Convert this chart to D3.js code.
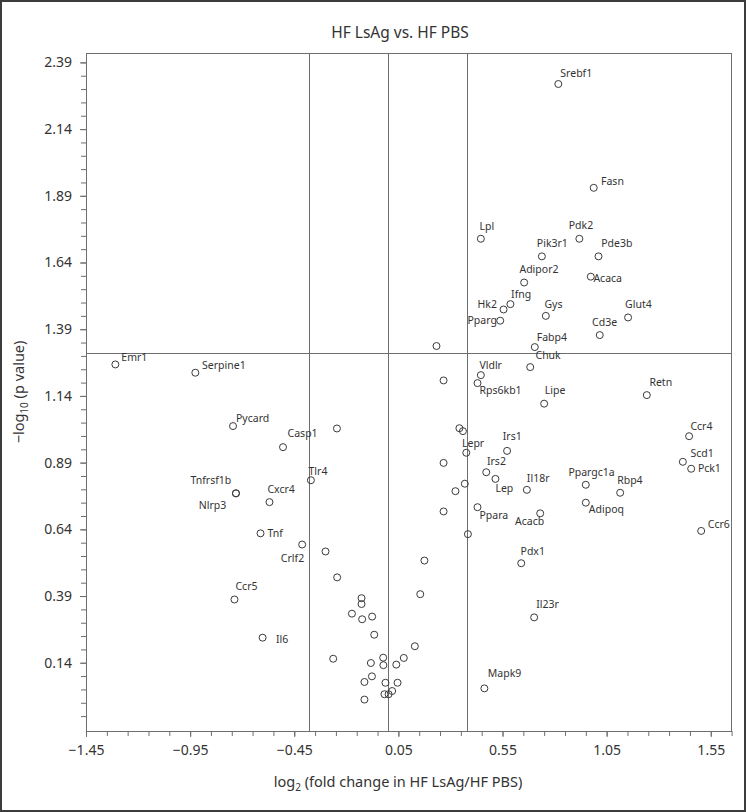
<!DOCTYPE html>
<html><head><meta charset="utf-8">
<script src="https://cdn.jsdelivr.net/npm/d3@7"></script>
<style>body{margin:0;background:#fff}svg{display:block}</style>
</head><body>
<script>
// ---------- data ----------
const genes = [
 "Srebf1","Fasn","Lpl","Pdk2","Pik3r1","Pde3b","Adipor2","Acaca","Ifng","Hk2","Pparg","Gys","Glut4","Cd3e","Fabp4",
 "Chuk","Vldlr","Rps6kb1","Lipe","Retn","Ccr4","Scd1","Pck1","Lepr","Irs1","Irs2","Lep","Il18r","Ppargc1a","Rbp4",
 "Adipoq","Ppara","Acacb","Ccr6","Pdx1","Il23r","Mapk9","Emr1","Serpine1","Pycard","Casp1","Tlr4","Tnfrsf1b","Nlrp3",
 "Cxcr4","Tnf","Crlf2","Ccr5","Il6",
 "","","","","","","","","","","","","","","","","","","","","","","","","","","","","","","","","","",""
];
const log2FoldChange = [
 0.818,0.988,0.446,0.919,0.739,1.011,0.654,0.974,0.588,0.555,0.539,0.758,1.153,1.017,0.705,
 0.683,0.446,0.430,0.750,1.243,1.446,1.416,1.456,0.376,0.572,0.472,0.516,0.667,0.950,1.115,
 0.950,0.430,0.731,1.504,0.640,0.702,0.463,-1.309,-0.925,-0.744,-0.504,-0.370,-0.730,-0.730,
 -0.569,-0.612,-0.412,-0.737,-0.602,
 0.233,0.267,0.343,0.360,0.267,0.369,0.324,0.267,0.384,0.175,0.155,-0.245,-0.300,-0.244,-0.127,
 -0.127,-0.173,-0.076,-0.124,-0.066,0.129,-0.263,-0.023,0.076,-0.082,-0.022,0.040,-0.077,-0.113,
 -0.012,0.046,0.020,-0.017,0.003,-0.113
];
const negLog10P = [
 2.309,1.920,1.729,1.729,1.663,1.663,1.565,1.587,1.484,1.464,1.422,1.440,1.434,1.368,1.323,
 1.248,1.218,1.188,1.111,1.143,0.989,0.893,0.867,0.927,0.934,0.854,0.829,0.788,0.807,0.777,
 0.740,0.723,0.700,0.634,0.513,0.310,0.044,1.258,1.227,1.027,0.948,0.824,0.775,0.775,
 0.742,0.625,0.583,0.377,0.234,
 1.327,1.198,1.019,1.008,0.889,0.811,0.783,0.707,0.622,0.523,0.397,1.018,0.557,0.460,0.382,
 0.360,0.324,0.313,0.303,0.245,0.202,0.155,0.159,0.158,0.139,0.131,0.133,0.089,0.068,
 0.065,0.065,0.034,0.022,0.022,0.002
];
const xTickLabels = [-1.45,-0.95,-0.45,0.05,0.55,1.05,1.55];
const yTickLabels = [0.14,0.39,0.64,0.89,1.14,1.39,1.64,1.89,2.14,2.39];
const foldCutoffs = [-Math.log2(1.3), 0, Math.log2(1.3)];
const pCutoff = -Math.log10(0.05);
const chartTitle = "HF LsAg vs. HF PBS";

// ---------- label placement (layout only) ----------
const labelPlacement = {
 Srebf1:[2,-6.6], Fasn:[7.3,-2.7], Lpl:[-1.4,-9], Pdk2:[-10.6,-9.7], Pik3r1:[-5,-9.4], Pde3b:[2.7,-9.4],
 Adipor2:[-4.7,-9.4], Acaca:[2.6,5], Ifng:[0.7,-6], Hk2:[-6.6,-1,'end'], Pparg:[-3.3,3.3,'end'], Gys:[-1.4,-8],
 Glut4:[-3,-9.7], Cd3e:[-7.7,-8.6], Fabp4:[2,-5.6], Chuk:[5.3,-8], Vldlr:[-1.4,-6], Rps6kb1:[2,11],
 Lipe:[0.7,-9.4], Retn:[2.6,-9.3], Ccr4:[1.3,-6.3], Scd1:[7.6,-4.7], Pck1:[6.7,3.7], Lepr:[-4.3,-5.7],
 Irs1:[-4.3,-11], Irs2:[0.7,-7], Lep:[0,12.7], Il18r:[0,-8.3], Ppargc1a:[-17.4,-9], Rbp4:[-3,-8.7],
 Adipoq:[3,10.6], Ppara:[2,12], Acacb:[4,12,'end'], Ccr6:[6.6,-3.3], Pdx1:[-0.7,-8.3], Il23r:[2,-9],
 Mapk9:[3.4,-11], Emr1:[6,-3], Serpine1:[6.7,-4], Pycard:[3,-4.3], Casp1:[4.6,-10], Tlr4:[-2.4,-5.6],
 Tnfrsf1b:[-4.7,-9,'end'], Nlrp3:[-9.7,16,'end'], Cxcr4:[-2,-9], Tnf:[7,3.4], Crlf2:[2,17.6,'end'],
 Ccr5:[1,-9.7], Il6:[13.4,5.6]
};

// ---------- chart ----------
const W = 746, H = 812;
const FONT = "'Noto Sans', 'DejaVu Sans', sans-serif";
const INK = "#333";
const LINE = "#6e6e6e";
const plot = {l: 86, r: 732, t: 53, b: 731};

const x = d3.scaleLinear().domain([-1.45, 1.652]).range([plot.l, plot.r]);
const y = d3.scaleLinear().domain([-0.1158, 2.4252]).range([plot.b, plot.t]);

const svg = d3.select("body").append("svg").attr("width", W).attr("height", H)
  .style("font-family", FONT);

svg.append("rect").attr("x", 0).attr("y", 0).attr("width", W).attr("height", H).attr("fill", "#fff");
svg.append("rect").attr("x", 1).attr("y", 1).attr("width", W - 2).attr("height", H - 2)
  .attr("fill", "none").attr("stroke", "#3c3c3c").attr("stroke-width", 2);

const fmt = v => d3.format(".2f")(v);

// minor ticks
const xMinor = d3.range(-1.45, 1.66, 0.1).map(v => +v.toFixed(2));
const yMinor = d3.range(-0.06, 2.40, 0.05).map(v => +v.toFixed(2));

const gxMinor = svg.append("g").attr("transform", `translate(0,${plot.b})`)
  .call(d3.axisBottom(x).tickValues(xMinor).tickSize(5).tickFormat(""));
const gyMinor = svg.append("g").attr("transform", `translate(${plot.l},0)`)
  .call(d3.axisLeft(y).tickValues(yMinor).tickSize(5).tickFormat(""));
const gx = svg.append("g").attr("transform", `translate(0,${plot.b})`)
  .call(d3.axisBottom(x).tickValues(xTickLabels).tickSize(6).tickPadding(8).tickFormat(fmt));
const gy = svg.append("g").attr("transform", `translate(${plot.l},0)`)
  .call(d3.axisLeft(y).tickValues(yTickLabels).tickSize(6).tickPadding(8).tickFormat(fmt));

[gxMinor, gyMinor, gx, gy].forEach(g => {
  g.select(".domain").remove();
  g.selectAll(".tick line").attr("stroke", LINE);
  g.selectAll(".tick text").attr("fill", INK).style("font-size", "14px").style("font-family", FONT);
});

// reference lines
const ref = svg.append("g").attr("stroke", LINE).attr("stroke-width", 1);
foldCutoffs.forEach(v => {
  ref.append("line").attr("x1", Math.round(x(v)) + 0.5).attr("x2", Math.round(x(v)) + 0.5)
    .attr("y1", plot.t).attr("y2", plot.b);
});
ref.append("line").attr("x1", plot.l).attr("x2", plot.r)
  .attr("y1", Math.round(y(pCutoff)) + 0.5).attr("y2", Math.round(y(pCutoff)) + 0.5);

// frame
svg.append("rect").attr("x", plot.l + 0.5).attr("y", plot.t + 0.5)
  .attr("width", plot.r - plot.l - 1).attr("height", plot.b - plot.t)
  .attr("fill", "none").attr("stroke", LINE).attr("stroke-width", 1);

// points
const pts = genes.map((g, i) => ({gene: g, fc: log2FoldChange[i], p: negLog10P[i]}));
svg.append("g").selectAll("circle").data(pts).join("circle")
  .attr("cx", d => x(d.fc)).attr("cy", d => y(d.p)).attr("r", 3.5)
  .attr("fill", "none").attr("stroke", "#3a3a3a").attr("stroke-width", 1);

// labels
svg.append("g").selectAll("text").data(pts.filter(d => d.gene)).join("text")
  .attr("x", d => x(d.fc) + (labelPlacement[d.gene] || [4,-5])[0])
  .attr("y", d => y(d.p) + (labelPlacement[d.gene] || [4,-5])[1])
  .attr("text-anchor", d => (labelPlacement[d.gene] || [])[2] || "start")
  .attr("fill", INK).style("font-size", "10.5px")
  .text(d => d.gene);

// titles
svg.append("text").attr("x", 400).attr("y", 38).attr("text-anchor", "middle")
  .attr("fill", INK).style("font-size", "15.5px").text(chartTitle);

const xl = svg.append("text").attr("x", 398).attr("y", 787).attr("text-anchor", "middle")
  .attr("fill", INK).style("font-size", "14.5px");
xl.append("tspan").text("log");
xl.append("tspan").attr("dy", 4).style("font-size", "10px").text("2");
xl.append("tspan").attr("dy", -4).text(" (fold change in HF LsAg/HF PBS)");

const yl = svg.append("text").attr("transform", `translate(24,${(plot.t + plot.b) / 2}) rotate(-90)`)
  .attr("text-anchor", "middle").attr("fill", INK).style("font-size", "14.5px");
yl.append("tspan").text("\u2212log");
yl.append("tspan").attr("dy", 4).style("font-size", "10px").text("10");
yl.append("tspan").attr("dy", -4).text(" (p value)");
</script>
</body></html>
